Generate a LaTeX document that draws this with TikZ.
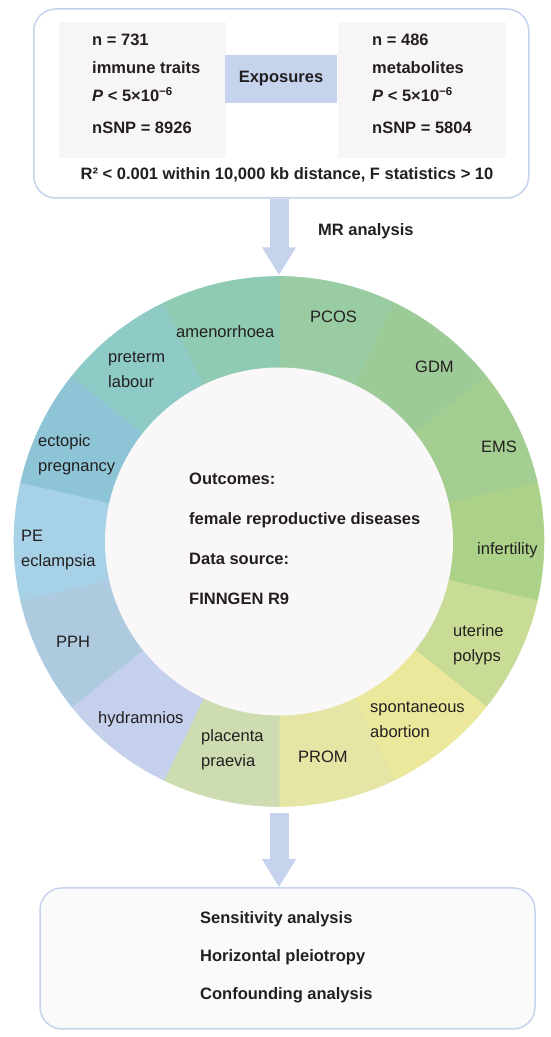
\documentclass[tikz,border=0pt]{standalone}
\usepackage{fontspec}
\setmainfont{Liberation Sans}
\usetikzlibrary{arrows.meta,positioning}

\definecolor{mrblue}{HTML}{C6D3ED}
\definecolor{panelgray}{HTML}{F7F5F5}
\definecolor{innerwhite}{HTML}{F9F7F8}
\definecolor{boxgray}{HTML}{FAFAFA}
\definecolor{txt}{HTML}{231F20}
% ring colours, clockwise from the top
\definecolor{cpcos}{HTML}{99CCA3}
\definecolor{cgdm}{HTML}{9DCB97}
\definecolor{cems}{HTML}{A4CE91}
\definecolor{cinf}{HTML}{ACD28A}
\definecolor{cpolyp}{HTML}{C8DC95}
\definecolor{cabort}{HTML}{EBE89C}
\definecolor{cprom}{HTML}{E5E6A5}
\definecolor{cplac}{HTML}{CDDCB1}
\definecolor{chydr}{HTML}{C5D0EC}
\definecolor{cpph}{HTML}{AECADF}
\definecolor{cpe}{HTML}{A7D1E7}
\definecolor{cecto}{HTML}{8DC5D6}
\definecolor{cpret}{HTML}{8ECBC7}
\definecolor{camen}{HTML}{8FCAB2}

\tikzset{
  lbl/.style={font=\fontsize{16.5}{25}\selectfont, text=txt, align=left, anchor=west, inner sep=0pt},
  bold/.style={font=\bfseries\fontsize{16.5}{28}\selectfont, text=txt, inner sep=0pt},
  panel/.style={fill=panelgray, inner sep=0pt},
  bigarrow/.style={mrblue, line width=19pt, -{Triangle[width=32pt,length=28pt]}},
}

\begin{document}
\begin{tikzpicture}[x=1pt,y=1pt]
  \useasboundingbox[fill=white] (0,0) rectangle (550,1037);

  % Exposures
  \node[draw=mrblue, line width=1.5pt, rounded corners=22pt, minimum width=495pt, minimum height=189pt, inner sep=0pt] (expbox) at (281.25,933.5) {};
  \node[panel, minimum width=167pt, minimum height=136pt] (immpanel) at (142.5,947) {};
  \node[panel, minimum width=168pt, minimum height=136pt] (metpanel) at (422,947) {};
  \node[bold, fill=mrblue, minimum width=112pt, minimum height=48pt] (exposures) at (281,958) {Exposures};
  \node[bold, align=left, anchor=west] (immune) at (92,953) {n = 731\\immune traits\\\textit{P} < 5×10\textsuperscript{−6}\\[4pt]nSNP = 8926};
  \node[bold, align=left, anchor=west] (metab) at (372,953) {n = 486\\metabolites\\\textit{P} < 5×10\textsuperscript{−6}\\[4pt]nSNP = 5804};
  \node[bold] (filter) at (287,862) {R² < 0.001 within 10,000 kb distance, F statistics > 10};

  % Outcome ring
  \coordinate (c) at (279,495.5);
  \foreach \col [count=\i from 0] in {cpcos,cgdm,cems,cinf,cpolyp,cabort,cprom,cplac,chydr,cpph,cpe,cecto,cpret,camen} {
    \filldraw[\col, line width=0.6pt] (c) -- ++({90-\i*360/14}:265pt) arc[start angle={90-\i*360/14}, delta angle={-360/14}, radius=265pt] -- cycle;
  }
  \node[circle, minimum size=530pt, inner sep=0pt] (ring) at (c) {};
  \node[circle, fill=innerwhite, minimum size=348pt, inner sep=0pt] (inner) at (c) {};

  % Ring labels
  \foreach \x/\y/\t [count=\k] in {176/332/amenorrhoea, 310/317/PCOS, 415/367/GDM, 481/447/EMS,
      477/550/infertility, 453/645/{uterine\\polyps}, 370/720/{spontaneous\\abortion}, 298/757/PROM,
      201/750/{placenta\\praevia}, 98/719/hydramnios, 56/642/PPH, 21/550/{PE\\eclampsia},
      38/455/{ectopic\\pregnancy}, 108/370/{preterm\\labour}} {
    \node[lbl] (dis\k) at (\x,1037-\y) {\t};
  }

  \node[bold, align=left, anchor=west, font=\bfseries\fontsize{16.5}{40}\selectfont] (outcomes) at (189,498) {Outcomes:\\female reproductive diseases\\Data source:\\FINNGEN R9};

  % Checks
  \node[draw=mrblue, fill=boxgray, line width=1.5pt, rounded corners=22pt, minimum width=495pt, minimum height=141pt, inner sep=0pt] (checkbox) at (287.5,78.5) {};
  \node[bold, align=left, anchor=west, font=\bfseries\fontsize{16.5}{38}\selectfont] (checks) at (200,80) {Sensitivity analysis\\Horizontal pleiotropy\\Confounding analysis};

  % Arrows
  \draw[bigarrow, shorten >=1pt] (ring.north |- expbox.south) -- (ring.north);
  \node[bold, anchor=west] (mr) at (318,806) {MR analysis};
  \draw[bigarrow, shorten <=6pt] (ring.south) -- (ring.south |- checkbox.north);
\end{tikzpicture}
\end{document}
